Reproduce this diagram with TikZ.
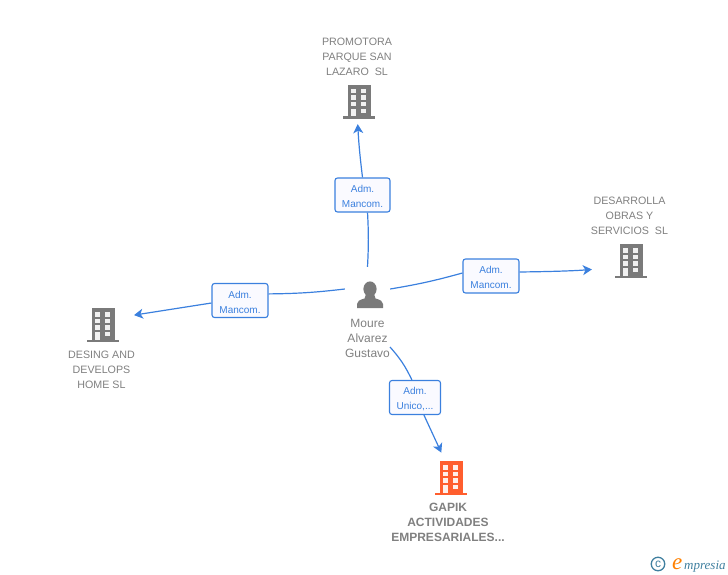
\documentclass[tikz,border=0pt]{standalone}
\usepackage{fontspec}
\setmainfont{Liberation Sans}
\newfontfamily\logofont{Liberation Serif}
\usetikzlibrary{arrows.meta}
\usetikzlibrary{positioning}
\definecolor{mblue}{HTML}{3B80DE}
\definecolor{mgray}{HTML}{7A7A7A}
\definecolor{mtext}{HTML}{808080}
\definecolor{morange}{HTML}{FF5E2E}
\definecolor{mlogo}{HTML}{3F7F9F}
\newcommand{\admlines}[2]{\rule{0pt}{10.5pt}#1\\#2}
\newcommand{\bldgicon}[1]{%
  \begin{scope}[shift = {(path picture bounding box.center)}]
    \fill [#1] (-11.5, -17) rectangle (11.5, 15);
    \fill [#1] (-16, 14.5) rectangle (16, 17);
    \foreach \rowtop/\rowbot in {-13/-8.5, -6.5/-2, 0/4.5} {
      \fill [white, opacity = 0.9] (-8, \rowtop) rectangle (-3, \rowbot);
      \fill [white, opacity = 0.9] (2, \rowtop) rectangle (7, \rowbot);
    }
    \fill [white, opacity = 0.9] (-8, 7) rectangle (-3, 14.5);
    \fill [white, opacity = 0.9] (2, 7) rectangle (7, 11);
  \end{scope}}
\tikzset{bldg/.style = {inner sep = 0, minimum width = 32, minimum height = 34,
    path picture = {\bldgicon{#1}}}}
\tikzset{person/.style = {inner sep = 0, minimum width = 45, minimum height = 44,
    path picture = {
      \begin{scope}[shift = {(path picture bounding box.center)}]
        \fill [mgray] (2.5, 0) ellipse [x radius = 6.6, y radius = 7.6];
        \fill [mgray] (-10.5, 19) -- (-10.5, 15) .. controls (-10.5, 12) and (-8, 11) .. (-3, 9.5)
          -- (-1.5, 5) -- (6.5, 5) -- (8, 9.5) .. controls (13, 11) and (15.5, 12) .. (15.5, 15)
          -- (15.5, 19) -- cycle;
      \end{scope}}}}
\tikzset{lbl/.style = {align = center, inner sep = 0, text = mtext,
    font = \fontsize{10.7}{15}\selectfont}}
\tikzset{role/.style = {draw = mblue, fill = blue!2, rounded corners = 2.5, line width = 1.1,
    align = center, inner sep = 0, text = mblue, minimum height = 34,
    font = \fontsize{10}{15}\selectfont}}
\tikzset{link/.style = {draw = mblue, line width = 1.2, -{Stealth[length = 9, width = 10, inset = 2.5]}}}
\tikzset{plain/.style = {draw = mblue, line width = 1.2}}
\begin{document}
\begin{tikzpicture}[x = 1pt, y = -1pt]
      \useasboundingbox (0, 0) rectangle (728, 575);

      \node [person] (moure) at (367.5, 289) {};
      \node [lbl, font = \fontsize{12}{15}\selectfont] (mourelabel) at (367.5, 338) {Moure\\Alvarez\\Gustavo};
      \coordinate (moureout) at (390, 347);

      \node [bldg = mgray] (promotora) at (359, 102) {};
      \node [lbl] (promotoralabel) at (357, 57) {PROMOTORA\\PARQUE SAN\\LAZARO~ SL};
      \node [bldg = mgray] (desarrolla) at (631, 261) {};
      \node [lbl] (desarrollalabel) at (629.5, 215.5) {DESARROLLA\\OBRAS Y\\SERVICIOS~ SL};
      \node [bldg = mgray] (desing) at (103, 325) {};
      \node [lbl] (desinglabel) at (101.5, 369.5) {DESING AND\\DEVELOPS\\HOME SL};
      \node [bldg = morange] (gapik) at (451, 478) {};
      \node [lbl, font = \fontsize{12}{15}\selectfont\bfseries] (gapiklabel) at (448, 522)
        {GAPIK\\ACTIVIDADES\\EMPRESARIALES...};

      \node [role, minimum width = 55] (admtop) at (362.5, 195) {\admlines{Adm.}{Mancom.}};
      \node [role, minimum width = 56] (admright) at (491, 276) {\admlines{Adm.}{Mancom.}};
      \node [role, minimum width = 56] (admleft) at (240, 300.5) {\admlines{Adm.}{Mancom.}};
      \node [role, minimum width = 51] (admbottom) at (415, 397.5) {\admlines{Adm.}{Unico,...}};

      \draw [plain] (moure.north) to [bend right = 3] (admtop.-74);
      \draw [link, shorten > = 5] (admtop.north) to [bend left = 2] (promotora.265);
      \draw [plain] (moure.east) to [bend right = 3] (admright.174);
      \draw [link, shorten > = 23] (admright.8) to [bend right = 2] (desarrolla.202);
      \draw [plain] (moure.west) to [bend left = 3] (admleft.13);
      \draw [link, shorten > = 15] (admleft.185) to (desing.25);
      \draw [plain] (moureout) to [bend left = 8] (admbottom.100);
      \draw [link, shorten > = 9] (admbottom.-63) to (gapik.109);

      \node [circle, draw = mlogo, line width = 1.3, minimum size = 13.5, inner sep = 0,
        text = mlogo, font = \fontsize{12}{12}\selectfont] (copyr) at (658, 564) {c};
      \node [anchor = base west, inner sep = 0, text = orange,
        font = \logofont\fontsize{23}{23}\selectfont\itshape] (logoe) at (672, 569) {e};
      \node [anchor = base west, inner sep = 0, text = mlogo,
        font = \logofont\fontsize{13}{13}\selectfont\itshape] (logotext) at (684, 569) {mpresia};
    \end{tikzpicture}
\end{document}
